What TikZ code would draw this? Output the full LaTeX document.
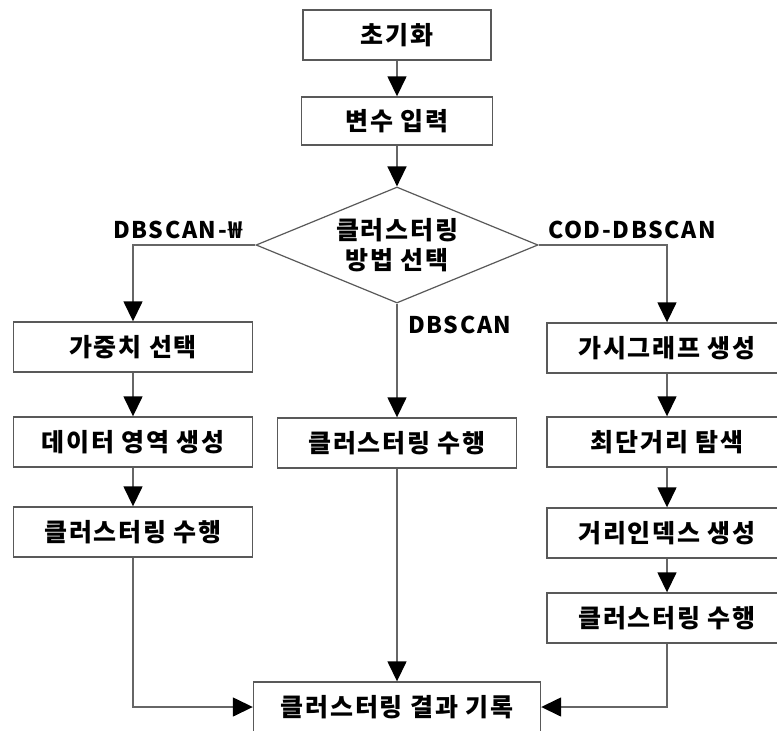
\documentclass[tikz,border=0pt]{standalone}
\usepackage{fontspec}
\usepackage{tikz}
\usetikzlibrary{arrows.meta,shapes.geometric}
\newfontfamily\kr[LetterSpace=7]{Noto Sans CJK KR}
\definecolor{edgegray}{rgb}{0.35,0.35,0.35}

\tikzset{
  box/.style={draw=edgegray, line width=1.4pt, fill=white, inner sep=0pt,
    minimum height=50pt, font=\kr\bfseries\fontsize{25}{28}\selectfont},
  choice/.style={diamond, draw=edgegray, line width=1.2pt, inner sep=0pt, aspect=2.4,
    minimum width=282pt, minimum height=116pt, align=center,
    font=\kr\bfseries\fontsize{25}{30}\selectfont},
  lbl/.style={inner sep=0pt, font=\kr\bfseries\fontsize{23}{26}\selectfont},
  flow/.style={draw=black!60, line width=1.5pt,
    -{Triangle[length=20pt,width=19pt,color=black]}}
}

\begin{document}
\begin{tikzpicture}[x=1pt,y=-1pt]
% 그림 영역
\clip (0,0) rectangle (777,731);
\fill[white] (0,0) rectangle (777,731);

% 공통 단계
\node[box, minimum width=188pt] (init) at (397,35) {초기화};
\node[box, minimum width=191pt, minimum height=48pt] (input) at (397,121) {변수 입력};
\node[choice] (choose) at (397,245) {클러스터링\\방법 선택};

% 분기 이름
\node[lbl] (lblW) at (178,230) {DBSCAN-₩};
\node[lbl] (lblC) at (632,230) {COD-DBSCAN};
\node[lbl] (lblD) at (460,325) {DBSCAN};

% 왼쪽 (DBSCAN-W)
\node[box, minimum width=239pt] (weight) at (133,347) {가중치 선택};
\node[box, minimum width=239pt] (region) at (133,442) {데이터 영역 생성};
\node[box, minimum width=239pt] (clusterL) at (133,532) {클러스터링 수행};

% 가운데 (DBSCAN)
\node[box, minimum width=239pt] (clusterC) at (397,443) {클러스터링 수행};

% 오른쪽 (COD-DBSCAN)
\node[box, minimum width=240pt] (visgraph) at (667,348) {가시그래프 생성};
\node[box, minimum width=240pt] (shortest) at (667,442) {최단거리 탐색};
\node[box, minimum width=240pt] (distidx) at (667,533) {거리인덱스 생성};
\node[box, minimum width=240pt] (clusterR) at (667,618) {클러스터링 수행};

% 결과
\node[box, minimum width=287pt] (result) at (397,707) {클러스터링 결과 기록};

% 연결선
\draw[flow] (init) -- (input);
\draw[flow] (input) -- (choose);
\draw[flow] (choose.west) -| (weight);
\draw[flow] (choose.east) -| (visgraph);
\draw[flow] (choose.south) -- (clusterC);

\draw[flow] (weight) -- (region);
\draw[flow] (region) -- (clusterL);

\draw[flow] (visgraph) -- (shortest);
\draw[flow] (shortest) -- (distidx);
\draw[flow] (distidx) -- (clusterR);

\draw[flow] (clusterL) |- (result);
\draw[flow] (clusterC) -- (result);
\draw[flow] (clusterR) |- (result);

\end{tikzpicture}
\end{document}
